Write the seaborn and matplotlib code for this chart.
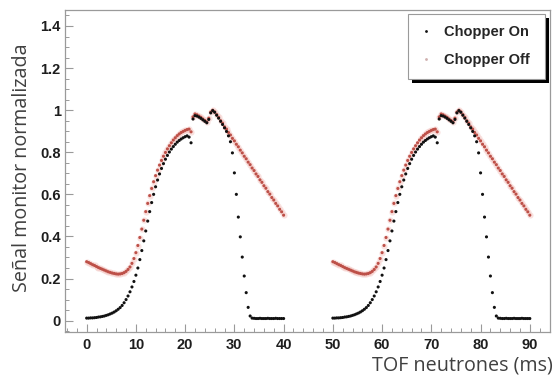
import numpy as np
import pandas as pd
import matplotlib
matplotlib.use("Agg")
import matplotlib.pyplot as plt
from matplotlib.patches import Rectangle
from matplotlib.ticker import MultipleLocator, FuncFormatter
import seaborn as sns

# Time-of-flight bins inside one chopper period (ms), 0.4 ms wide
bin_width = 0.4
tof_bins = np.round(np.arange(101) * bin_width, 1)
pulse_starts = [0, 50]

# Normalised monitor signal per TOF bin, chopper stopped
chopper_off = [
    0.280, 0.276, 0.271, 0.266, 0.262, 0.257, 0.252, 0.248, 0.244, 0.240,
    0.236, 0.232, 0.229, 0.226, 0.224, 0.222, 0.221, 0.222, 0.224, 0.228,
    0.234, 0.243, 0.255, 0.272, 0.295, 0.323, 0.357, 0.395, 0.435, 0.477,
    0.518, 0.557, 0.594, 0.628, 0.660, 0.689, 0.715, 0.739, 0.761, 0.781,
    0.799, 0.816, 0.831, 0.845, 0.858, 0.869, 0.879, 0.887, 0.894, 0.899,
    0.904, 0.908, 0.910, 0.897, 0.968, 0.982, 0.978, 0.972, 0.966, 0.958,
    0.951, 0.944, 0.962, 0.991, 1.000, 0.992, 0.979, 0.966, 0.950, 0.938,
    0.921, 0.910, 0.894, 0.882, 0.866, 0.854, 0.838, 0.826, 0.810, 0.797,
    0.781, 0.769, 0.753, 0.741, 0.725, 0.713, 0.697, 0.685, 0.669, 0.657,
    0.641, 0.629, 0.613, 0.601, 0.585, 0.573, 0.557, 0.545, 0.529, 0.517,
    0.501,
]

# Normalised monitor signal per TOF bin, chopper running
chopper_on = [
    0.012, 0.012, 0.013, 0.013, 0.014, 0.015, 0.017, 0.018, 0.020, 0.022,
    0.025, 0.028, 0.032, 0.036, 0.041, 0.047, 0.054, 0.062, 0.072, 0.085,
    0.100, 0.117, 0.137, 0.160, 0.186, 0.216, 0.250, 0.290, 0.333, 0.379,
    0.426, 0.473, 0.518, 0.561, 0.600, 0.636, 0.668, 0.697, 0.723, 0.746,
    0.767, 0.785, 0.801, 0.815, 0.827, 0.838, 0.848, 0.856, 0.863, 0.869,
    0.874, 0.878, 0.872, 0.845, 0.958, 0.974, 0.972, 0.967, 0.961, 0.954,
    0.947, 0.940, 0.956, 0.987, 0.998, 0.990, 0.976, 0.962, 0.947, 0.932,
    0.916, 0.899, 0.878, 0.850, 0.797, 0.702, 0.600, 0.492, 0.398, 0.302,
    0.212, 0.133, 0.063, 0.022, 0.012, 0.011, 0.010, 0.010, 0.011, 0.010,
    0.010, 0.010, 0.011, 0.010, 0.010, 0.010, 0.011, 0.010, 0.010, 0.010,
    0.010,
]

series_labels = ["Chopper On", "Chopper Off"]
x_label = "TOF neutrones (ms)"
y_label = "Señal monitor normalizada"

# Long-form table: Off rows first so On markers sit on top
rows = []
for label, values in (("Chopper Off", chopper_off), ("Chopper On", chopper_on)):
    for start in pulse_starts:
        rows.append(pd.DataFrame({"tof": start + tof_bins,
                                  "signal": values,
                                  "series": label}))
df = pd.concat(rows, ignore_index=True)
df_off = df[df["series"] == "Chopper Off"]

sns.set_style("ticks")
plt.rcParams["font.family"] = ["Liberation Sans", "DejaVu Sans"]

W, H = 558, 376
fig = plt.figure(figsize=(W / 100, H / 100), dpi=100)
ax = fig.add_axes([65 / W, 1 - 332 / H, 485 / W, 322 / H])

# soft glow around the Chopper Off markers
sns.scatterplot(data=df_off, x="tof", y="signal", color="#f4c4c0", s=20,
                alpha=0.5, linewidth=0, legend=False, ax=ax, zorder=2)
sns.scatterplot(data=df, x="tof", y="signal", hue="series",
                hue_order=["Chopper Off", "Chopper On"],
                palette={"Chopper Off": "#bd5048", "Chopper On": "#111111"},
                s=5, linewidth=0, ax=ax, zorder=3)

ax.set_xlim(-4.4, 94.1)
ax.set_ylim(-0.054, 1.476)
ax.xaxis.set_major_locator(MultipleLocator(10))
ax.xaxis.set_minor_locator(MultipleLocator(2))
ax.yaxis.set_major_locator(MultipleLocator(0.2))
ax.yaxis.set_minor_locator(MultipleLocator(0.05))
ax.yaxis.set_major_formatter(FuncFormatter(lambda v, _: f"{v:g}"))
ax.xaxis.set_major_formatter(FuncFormatter(lambda v, _: f"{v:g}"))

frame_col = "#9a9a9a"
for sp in ax.spines.values():
    sp.set_visible(True)
    sp.set_color(frame_col)
    sp.set_linewidth(0.9)
ax.tick_params(which="both", direction="in", colors=frame_col,
               labelcolor="#1e1e1e", top=False, right=False)
ax.tick_params(which="major", length=6, width=0.8)
ax.tick_params(which="minor", length=3, width=0.7)
ax.tick_params(axis="y", which="major", pad=3)
ax.tick_params(axis="x", which="major", pad=4)
for lab in ax.get_xticklabels() + ax.get_yticklabels():
    lab.set_fontweight("bold")
    lab.set_fontsize(10.5)

lab_font = dict(family=["Open Sans", "DejaVu Sans"], size=14.2, color="#404040")
ax.set_xlabel(x_label, loc="right", **lab_font)
ax.set_ylabel(y_label, **lab_font)
ax.xaxis.set_label_coords((553 - 65) / 485, -0.072)
ax.yaxis.set_label_coords(-0.068, 0.51)

# legend box with a solid drop shadow
lx0, ly0, lw, lh = 408, 14, 137, 65
ax.add_patch(Rectangle(((lx0 + 4) / W, 1 - (ly0 + lh + 4) / H), lw / W, lh / H,
                       transform=fig.transFigure, facecolor="black",
                       edgecolor="none", clip_on=False, zorder=6))
ax.add_patch(Rectangle((lx0 / W, 1 - (ly0 + lh) / H), lw / W, lh / H,
                       transform=fig.transFigure, facecolor="white",
                       edgecolor=frame_col, linewidth=0.8, clip_on=False,
                       zorder=7))
handles, labels = ax.get_legend_handles_labels()
order = [labels.index(s) for s in series_labels]
leg = ax.legend([handles[i] for i in order], [labels[i] for i in order],
                loc="upper left", bbox_to_anchor=(lx0 / W, 1 - ly0 / H),
                bbox_transform=fig.transFigure, frameon=False,
                prop=dict(family="Liberation Sans", weight="bold", size=10.5),
                borderaxespad=0, borderpad=0.75, handlelength=1.0,
                handletextpad=0.75, labelspacing=0.95, markerscale=0.9)
leg.set_zorder(8)
off_handle = leg.legend_handles[1]
off_handle.set_markerfacecolor("#cfb0ae")
off_handle.set_markeredgecolor("#cfb0ae")

fig.savefig("out.png", dpi=100)
